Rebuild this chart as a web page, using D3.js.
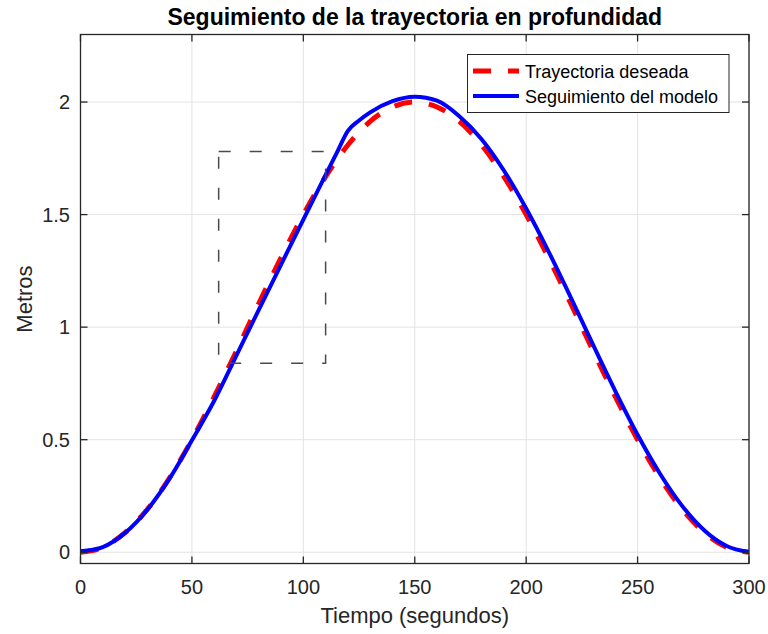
<!DOCTYPE html>
<html>
<head>
<meta charset="utf-8">
<script src="https://cdn.jsdelivr.net/npm/d3@7"></script>
<style>
  html, body { margin: 0; padding: 0; background: #fff; }
  svg { display: block; font-family: "Liberation Sans", Arial, sans-serif; }
</style>
</head>
<body>
<svg id="chart" width="768" height="634"></svg>
<script>
// Time samples (s)
const tiempo = [0, 10, 20, 30, 40, 50, 60, 70, 80, 90, 100, 110, 115, 120, 125, 130, 140, 150,
                160, 170, 180, 190, 200, 210, 220, 230, 240, 250, 260, 270, 280, 290, 300];

// Desired depth trajectory (m)
const deseada = [0, 0.022, 0.087, 0.191, 0.331, 0.5, 0.691, 0.895, 1.105, 1.309, 1.5, 1.669, 1.743, 1.809, 1.866, 1.914, 1.978, 2.0,
                 1.978, 1.914, 1.809, 1.669, 1.5, 1.309, 1.105, 0.895, 0.691, 0.5, 0.331, 0.191, 0.087, 0.022, 0];

// Model tracking response (m)
const modelo = [0.004, 0.023, 0.086, 0.189, 0.328, 0.497, 0.673, 0.875, 1.077, 1.278, 1.478, 1.676, 1.774, 1.872, 1.918, 1.954, 2.004, 2.024,
                2.006, 1.937, 1.835, 1.696, 1.527, 1.337, 1.132, 0.922, 0.716, 0.522, 0.35, 0.206, 0.097, 0.028, 0.001];

// Highlighted region [t0, t1] x [y0, y1]
const zonaT = [62, 110];
const zonaY = [0.84, 1.78];

const xTicks = [0, 50, 100, 150, 200, 250, 300];
const yTicks = [0, 0.5, 1, 1.5, 2];

const titulo = "Seguimiento de la trayectoria en profundidad";
const etiquetaX = "Tiempo (segundos)";
const etiquetaY = "Metros";
const leyenda = ["Trayectoria deseada", "Seguimiento del modelo"];

const svg = d3.select("#chart");
const box = { left: 80.5, right: 749, top: 34.5, bottom: 563.5 };
const axisColor = "#262626";

const x = d3.scaleLinear().domain([0, 300]).range([box.left, box.right]);
const y = d3.scaleLinear().domain([-0.05, 2.3]).range([box.bottom, box.top]);

// grid
const grid = svg.append("g").attr("stroke", "#e3e3e3").attr("stroke-width", 1);
grid.selectAll(".gx").data(xTicks).join("line")
  .attr("x1", d => x(d)).attr("x2", d => x(d))
  .attr("y1", box.top).attr("y2", box.bottom);
grid.selectAll(".gy").data(yTicks).join("line")
  .attr("x1", box.left).attr("x2", box.right)
  .attr("y1", d => y(d)).attr("y2", d => y(d));

// curves
const points = (vals) => tiempo.map((t, i) => [t, vals[i]]);
const line = d3.line().x(d => x(d[0])).y(d => y(d[1])).curve(d3.curveMonotoneX);

svg.append("clipPath").attr("id", "plotclip")
  .append("rect").attr("x", box.left).attr("y", box.top)
  .attr("width", box.right - box.left).attr("height", box.bottom - box.top);

const plot = svg.append("g").attr("clip-path", "url(#plotclip)");

plot.append("path")
  .attr("d", line(points(deseada)))
  .attr("fill", "none")
  .attr("stroke", "#ff0000")
  .attr("stroke-width", 5)
  .attr("stroke-dasharray", "18,17");

plot.append("path")
  .attr("d", line(points(modelo)))
  .attr("fill", "none")
  .attr("stroke", "#0000ff")
  .attr("stroke-width", 4)
  .attr("stroke-linejoin", "round");

// highlighted region
svg.append("rect")
  .attr("x", x(zonaT[0])).attr("y", y(zonaY[1]))
  .attr("width", x(zonaT[1]) - x(zonaT[0]))
  .attr("height", y(zonaY[0]) - y(zonaY[1]))
  .attr("fill", "none")
  .attr("stroke", "#4a4a4a")
  .attr("stroke-width", 1.5)
  .attr("stroke-dasharray", "12,19");

// axes box with inward ticks
const frame = svg.append("g").attr("stroke", axisColor).attr("stroke-width", 1.3).attr("fill", "none");
frame.append("rect")
  .attr("x", box.left).attr("y", box.top)
  .attr("width", box.right - box.left).attr("height", box.bottom - box.top);
const tl = 7;
xTicks.forEach(t => {
  frame.append("line").attr("x1", x(t)).attr("x2", x(t)).attr("y1", box.bottom).attr("y2", box.bottom - tl);
  frame.append("line").attr("x1", x(t)).attr("x2", x(t)).attr("y1", box.top).attr("y2", box.top + tl);
});
yTicks.forEach(v => {
  frame.append("line").attr("x1", box.left).attr("x2", box.left + tl).attr("y1", y(v)).attr("y2", y(v));
  frame.append("line").attr("x1", box.right).attr("x2", box.right - tl).attr("y1", y(v)).attr("y2", y(v));
});

// tick labels
svg.append("g").selectAll("text").data(xTicks).join("text")
  .attr("x", d => x(d)).attr("y", 594)
  .attr("text-anchor", "middle")
  .attr("font-size", 20).attr("fill", axisColor)
  .text(d => d);
svg.append("g").selectAll("text").data(yTicks).join("text")
  .attr("x", 70).attr("y", d => y(d) + 7)
  .attr("text-anchor", "end")
  .attr("font-size", 20).attr("fill", axisColor)
  .text(d => d);

// axis titles
svg.append("text")
  .attr("x", (box.left + box.right) / 2).attr("y", 623)
  .attr("text-anchor", "middle").attr("font-size", 22).attr("fill", axisColor)
  .text(etiquetaX);
svg.append("text")
  .attr("transform", `translate(32,${(box.top + box.bottom) / 2}) rotate(-90)`)
  .attr("text-anchor", "middle").attr("font-size", 22).attr("fill", axisColor)
  .text(etiquetaY);
svg.append("text")
  .attr("x", (box.left + box.right) / 2).attr("y", 25)
  .attr("text-anchor", "middle").attr("font-size", 23).attr("font-weight", "bold").attr("fill", "#000")
  .text(titulo);

// legend
const lg = svg.append("g");
lg.append("rect")
  .attr("x", 467.5).attr("y", 54.5).attr("width", 261.5).attr("height", 58)
  .attr("fill", "#fff").attr("stroke", axisColor).attr("stroke-width", 1);
const legendStyles = [
  { color: "#ff0000", width: 5, dash: "18,17" },
  { color: "#0000ff", width: 4, dash: null }
];
leyenda.forEach((name, i) => {
  const yy = 71 + i * 25;
  lg.append("line")
    .attr("x1", 473).attr("x2", 519).attr("y1", yy).attr("y2", yy)
    .attr("stroke", legendStyles[i].color).attr("stroke-width", legendStyles[i].width)
    .attr("stroke-dasharray", legendStyles[i].dash);
  lg.append("text")
    .attr("x", 525).attr("y", yy + 6.5)
    .attr("font-size", 18).attr("fill", "#000")
    .text(name);
});
</script>
</body>
</html>
